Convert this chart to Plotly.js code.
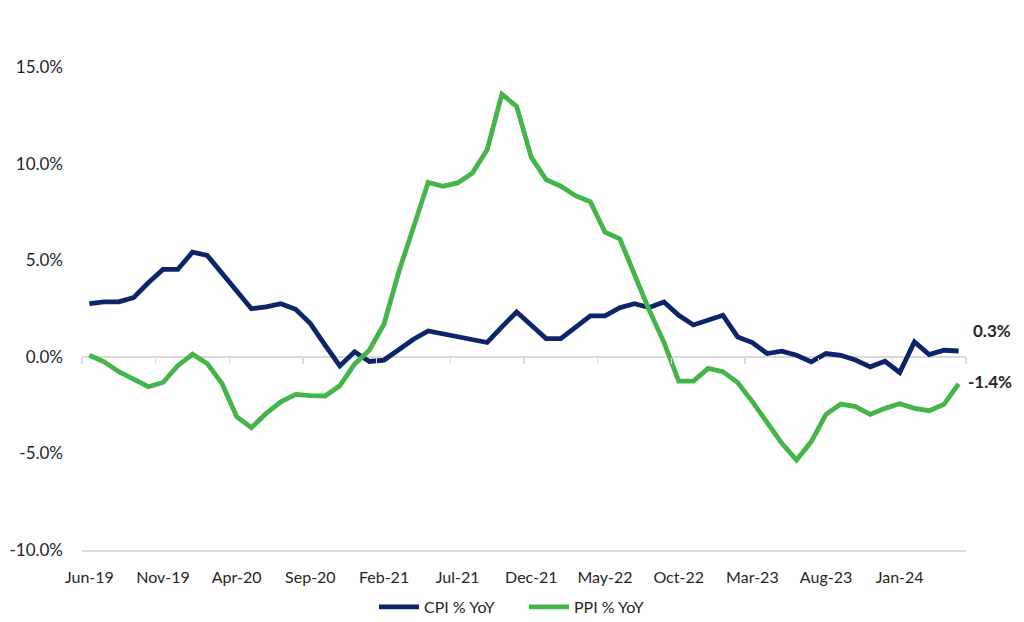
<!DOCTYPE html>
<html>
<head>
<meta charset="utf-8">
<script src="https://cdn.plot.ly/plotly-3.0.1.min.js"></script>
<style>html,body{margin:0;padding:0;background:#fff;}#chart{width:1024px;height:622px;}</style>
</head>
<body>
<div id="chart"></div>
<script>
const months = [
  "Jun-19","Jul-19","Aug-19","Sep-19","Oct-19","Nov-19","Dec-19",
  "Jan-20","Feb-20","Mar-20","Apr-20","May-20","Jun-20","Jul-20","Aug-20","Sep-20","Oct-20","Nov-20","Dec-20",
  "Jan-21","Feb-21","Mar-21","Apr-21","May-21","Jun-21","Jul-21","Aug-21","Sep-21","Oct-21","Nov-21","Dec-21",
  "Jan-22","Feb-22","Mar-22","Apr-22","May-22","Jun-22","Jul-22","Aug-22","Sep-22","Oct-22","Nov-22","Dec-22",
  "Jan-23","Feb-23","Mar-23","Apr-23","May-23","Jun-23","Jul-23","Aug-23","Sep-23","Oct-23","Nov-23","Dec-23",
  "Jan-24","Feb-24","Mar-24","Apr-24","May-24"
];
const cpiYoY = [
  2.75, 2.84, 2.84, 3.06, 3.83, 4.52, 4.52,
  5.42, 5.25, 4.34, 3.41, 2.49, 2.58, 2.75, 2.46, 1.72, 0.60, -0.47, 0.26,
  -0.24, -0.17, 0.39, 0.91, 1.34, 1.20, 1.08, 0.89, 0.74, 1.55, 2.32, 1.63,
  0.94, 0.94, 1.55, 2.12, 2.12, 2.54, 2.75, 2.55, 2.84, 2.15, 1.65, 1.89,
  2.15, 1.03, 0.74, 0.17, 0.29, 0.08, -0.26, 0.17, 0.08, -0.17, -0.52, -0.23,
  -0.81, 0.77, 0.12, 0.34, 0.30
];
const ppiYoY = [
  0.08, -0.26, -0.77, -1.16, -1.55, -1.33, -0.46,
  0.13, -0.35, -1.38, -3.10, -3.67, -2.93, -2.33, -1.95, -2.01, -2.03, -1.50, -0.38,
  0.34, 1.70, 4.39, 6.80, 9.03, 8.83, 9.00, 9.51, 10.72, 13.59, 12.96, 10.32,
  9.17, 8.83, 8.34, 8.03, 6.45, 6.11, 4.21, 2.41, 0.75, -1.26, -1.26, -0.60,
  -0.77, -1.33, -2.32, -3.39, -4.48, -5.34, -4.39, -2.98, -2.45, -2.58, -2.98, -2.67,
  -2.43, -2.67, -2.79, -2.46, -1.40
];
const tickLabels = ["Jun-19","Nov-19","Apr-20","Sep-20","Feb-21","Jul-21","Dec-21","May-22","Oct-22","Mar-23","Aug-23","Jan-24"];
const yTicks = [-10, -5, 0, 5, 10, 15];
const seriesNames = ["CPI % YoY", "PPI % YoY"];

const FONT = "Lato, 'Open Sans', sans-serif";
const C_CPI = "#0c2469";
const C_PPI = "#44b549";

const idx = months.map((m, i) => i);
const tickIdx = tickLabels.map(t => months.indexOf(t));
const betweenTicks = [];
for (let i = 0; i <= months.length; i += 5) betweenTicks.push(i - 0.5);

const yMin = -10, yMax = 15;
const zeroPos = (0 - yMin) / (yMax - yMin);

const traces = [
  {x: idx, y: cpiYoY, type: "scatter", mode: "lines", name: seriesNames[0],
   line: {color: C_CPI, width: 4.8, shape: "linear"}, hoverinfo: "skip"},
  {x: idx, y: ppiYoY, type: "scatter", mode: "lines", name: seriesNames[1],
   line: {color: C_PPI, width: 4.8, shape: "linear"}, hoverinfo: "skip"}
];

const last = months.length - 1;
const fmt = v => v.toFixed(1) + "%";

const layout = {
  width: 1024, height: 622,
  margin: {l: 82, r: 58, t: 67, b: 72, autoexpand: false},
  paper_bgcolor: "#ffffff", plot_bgcolor: "#ffffff",
  font: {family: FONT, color: "#262626", size: 16},
  showlegend: true,
  legend: {orientation: "h", xref: "paper", x: 0.5, xanchor: "center",
           yref: "container", y: 1 - 607 / 622, yanchor: "middle",
           entrywidth: 95, entrywidthmode: "pixels",
           font: {family: FONT, size: 16, color: "#262626"}, itemwidth: 40, tracegroupgap: 0},
  xaxis: {
    type: "linear", range: [-0.5, months.length - 0.5], automargin: false,
    tickmode: "array", tickvals: tickIdx, ticktext: tickLabels,
    ticks: "", showgrid: false, zeroline: false,
    showline: true, linecolor: "#d9d9d9", linewidth: 1.5,
    tickfont: {family: FONT, size: 16, color: "#262626"},
    ticklabelstandoff: 12, fixedrange: true
  },
  xaxis2: {
    type: "linear", range: [-0.5, months.length - 0.5], overlaying: "x",
    anchor: "free", position: zeroPos, side: "bottom", automargin: false,
    tickmode: "array", tickvals: betweenTicks, ticks: "outside", ticklen: 6,
    tickcolor: "#d9d9d9", tickwidth: 1.5, showticklabels: false,
    showgrid: false, zeroline: false, showline: false
  },
  yaxis: {
    range: [yMin, yMax], tickmode: "array", tickvals: yTicks, automargin: false,
    ticktext: yTicks.map(v => v.toFixed(1) + "%"),
    showgrid: false, zeroline: true, zerolinecolor: "#d9d9d9", zerolinewidth: 1.5,
    showline: false, ticks: "",
    tickfont: {family: FONT, size: 17, color: "#262626"},
    ticklabelstandoff: 18, fixedrange: true
  },
  annotations: [
    {x: last, y: cpiYoY[last], xref: "x", yref: "y", text: "<b>" + fmt(cpiYoY[last]) + "</b>",
     showarrow: false, xanchor: "left", yanchor: "middle", xshift: 12, yshift: 21,
     font: {family: FONT, size: 17, color: "#262626"}},
    {x: last, y: ppiYoY[last], xref: "x", yref: "y", text: "<b>" + fmt(ppiYoY[last]) + "</b>",
     showarrow: false, xanchor: "left", yanchor: "middle", xshift: 7, yshift: 2,
     font: {family: FONT, size: 17, color: "#262626"}}
  ]
};

traces.push({x: [], y: [], xaxis: "x2", yaxis: "y", type: "scatter", mode: "lines",
             showlegend: false, hoverinfo: "skip"});

Plotly.newPlot("chart", traces, layout, {staticPlot: true, displayModeBar: false});
</script>
</body>
</html>
